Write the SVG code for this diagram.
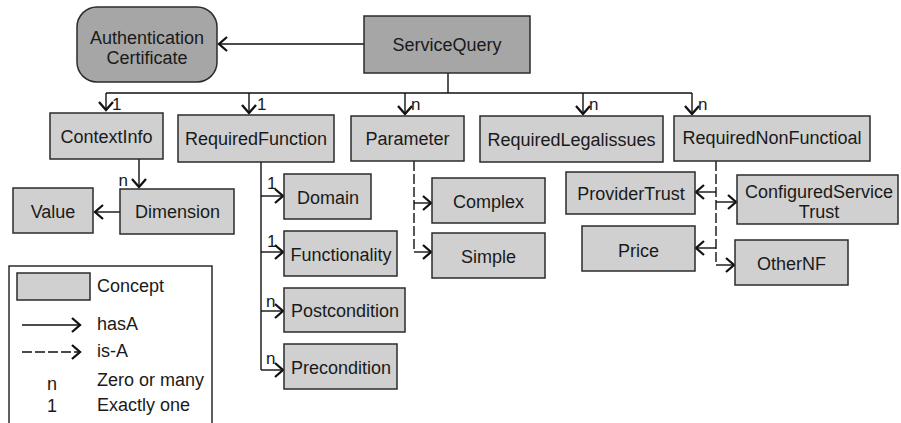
<svg xmlns="http://www.w3.org/2000/svg" width="901" height="423" viewBox="0 0 901 423">
  <style>
    .box { fill: #d0d0d0; stroke: #2b2b2b; stroke-width: 1.5; }
    .dark { fill: #a6a6a6; stroke: #2b2b2b; stroke-width: 1.5; }
    .lbl { font-family: "Liberation Sans", Arial, sans-serif; font-size: 18px; fill: #1a1a1a; text-anchor: middle; }
    .card { font-family: "Liberation Sans", Arial, sans-serif; font-size: 17px; fill: #1a1a1a; }
    .leg { font-family: "Liberation Sans", Arial, sans-serif; font-size: 18px; fill: #1a1a1a; }
    .ln { fill: none; stroke: #111; stroke-width: 1.4; }
    .has { marker-end: url(#ah); }
    .isa { stroke-dasharray: 10 3; }
  </style>
  <defs>
    <marker id="ah" viewBox="-12 -10 14 20" markerWidth="14" markerHeight="20" refX="0" refY="0" orient="auto" markerUnits="userSpaceOnUse">
      <path d="M-8,-7 L0,0 L-8,7" fill="none" stroke="#111" stroke-width="2.3" stroke-dasharray="none"/>
    </marker>
  </defs>
  <rect width="901" height="423" fill="#fff"/>

  <!-- connectors -->
  <g id="connectors">
    <line class="ln has" x1="364" y1="44" x2="219" y2="44"/>
    <path class="ln" d="M448,73 V93 M106,93 H692"/>
    <line class="ln has" x1="106" y1="93" x2="106" y2="110"/>
    <line class="ln has" x1="249" y1="93" x2="249" y2="113"/>
    <line class="ln has" x1="405" y1="93" x2="405" y2="114"/>
    <line class="ln has" x1="583" y1="93" x2="583" y2="114"/>
    <line class="ln has" x1="692" y1="93" x2="692" y2="114"/>
    <text class="card" x="112" y="110">1</text>
    <text class="card" x="257" y="110">1</text>
    <text class="card" x="411" y="110">n</text>
    <text class="card" x="589" y="110">n</text>
    <text class="card" x="698" y="110">n</text>

    <!-- ContextInfo / Dimension / Value -->
    <line class="ln has" x1="139" y1="159" x2="139" y2="187"/>
    <text class="card" x="128" y="186" text-anchor="end">n</text>
    <line class="ln has" x1="120" y1="212" x2="95" y2="212"/>

    <!-- RequiredFunction parts -->
    <path class="ln" d="M261,162 V370"/>
    <line class="ln has" x1="261" y1="196" x2="283" y2="196"/>
    <line class="ln has" x1="261" y1="252" x2="283" y2="252"/>
    <line class="ln has" x1="261" y1="311" x2="283" y2="311"/>
    <line class="ln has" x1="261" y1="370" x2="283" y2="370"/>
    <text class="card" x="267" y="189">1</text>
    <text class="card" x="267" y="247">1</text>
    <text class="card" x="266" y="307">n</text>
    <text class="card" x="266" y="364">n</text>

    <!-- Parameter kinds -->
    <path class="ln isa" d="M414,161 V252"/>
    <line class="ln has" x1="414" y1="203" x2="431" y2="203"/>
    <line class="ln has" x1="414" y1="252" x2="431" y2="252"/>

    <!-- non-functional kinds -->
    <path class="ln isa" d="M716,161 V265"/>
    <line class="ln has" x1="716" y1="192" x2="696" y2="192"/>
    <line class="ln has" x1="716" y1="248" x2="696" y2="248"/>
    <line class="ln has" x1="716" y1="202" x2="736" y2="202"/>
    <line class="ln has" x1="716" y1="265" x2="734" y2="265"/>
  </g>

  <!-- nodes -->
  <g id="auth-cert">
    <rect class="dark" x="77" y="7" width="140" height="75" rx="20"/>
    <text class="lbl" x="147" y="44">Authentication</text>
    <text class="lbl" x="147" y="64">Certificate</text>
  </g>
  <g id="service-query">
    <rect class="dark" x="364" y="16" width="166" height="57"/>
    <text class="lbl" x="447" y="51">ServiceQuery</text>
  </g>
  <g id="context-info">
    <rect class="box" x="50" y="113" width="113" height="46"/>
    <text class="lbl" x="106.5" y="143">ContextInfo</text>
  </g>
  <g id="required-function">
    <rect class="box" x="178" y="115" width="156" height="47"/>
    <text class="lbl" x="256" y="145">RequiredFunction</text>
  </g>
  <g id="parameter">
    <rect class="box" x="351" y="116" width="113" height="45"/>
    <text class="lbl" x="407.5" y="145">Parameter</text>
  </g>
  <g id="required-legal">
    <rect class="box" x="480" y="116" width="183" height="46"/>
    <text class="lbl" x="571.5" y="145.5">RequiredLegalissues</text>
  </g>
  <g id="required-nonfunctional">
    <rect class="box" x="674" y="116" width="196" height="45"/>
    <text class="lbl" x="772" y="144">RequiredNonFunctioal</text>
  </g>
  <g id="value">
    <rect class="box" x="13" y="188" width="80" height="45"/>
    <text class="lbl" x="53" y="217.5">Value</text>
  </g>
  <g id="dimension">
    <rect class="box" x="120" y="189" width="114" height="45"/>
    <text class="lbl" x="177.5" y="218">Dimension</text>
  </g>
  <g id="domain">
    <rect class="box" x="284" y="174" width="87" height="45"/>
    <text class="lbl" x="328" y="204">Domain</text>
  </g>
  <g id="functionality">
    <rect class="box" x="284" y="231" width="113" height="45"/>
    <text class="lbl" x="341" y="261">Functionality</text>
  </g>
  <g id="postcondition">
    <rect class="box" x="284" y="288" width="121" height="44"/>
    <text class="lbl" x="345" y="317">Postcondition</text>
  </g>
  <g id="precondition">
    <rect class="box" x="284" y="344" width="113" height="45"/>
    <text class="lbl" x="341" y="373.5">Precondition</text>
  </g>
  <g id="complex">
    <rect class="box" x="432" y="178" width="113" height="45"/>
    <text class="lbl" x="488.5" y="208">Complex</text>
  </g>
  <g id="simple">
    <rect class="box" x="432" y="233" width="113" height="45"/>
    <text class="lbl" x="488.5" y="263">Simple</text>
  </g>
  <g id="provider-trust">
    <rect class="box" x="566" y="172" width="129" height="42"/>
    <text class="lbl" x="631" y="199.5">ProviderTrust</text>
  </g>
  <g id="configured-service-trust">
    <rect class="box" x="737" y="175" width="161" height="49"/>
    <text class="lbl" x="819" y="198">ConfiguredService</text>
    <text class="lbl" x="819" y="218">Trust</text>
  </g>
  <g id="price">
    <rect class="box" x="582" y="226" width="113" height="45"/>
    <text class="lbl" x="638.5" y="256.5">Price</text>
  </g>
  <g id="other-nf">
    <rect class="box" x="735" y="240" width="113" height="45"/>
    <text class="lbl" x="791.5" y="270">OtherNF</text>
  </g>

  <!-- legend -->
  <g id="legend">
    <rect x="9" y="266" width="203" height="170" fill="#fff" stroke="#2b2b2b" stroke-width="1.5"/>
    <rect class="box" x="17" y="273" width="73" height="27"/>
    <text class="leg" x="97" y="292">Concept</text>
    <line class="ln has" x1="22" y1="325" x2="80" y2="325"/>
    <text class="leg" x="97" y="330">hasA</text>
    <line class="ln isa has" x1="22" y1="352" x2="80" y2="352"/>
    <text class="leg" x="97" y="357">is-A</text>
    <text class="leg" x="52" y="390" text-anchor="middle">n</text>
    <text class="leg" x="97" y="386">Zero or many</text>
    <text class="leg" x="52" y="412" text-anchor="middle">1</text>
    <text class="leg" x="97" y="411">Exactly one</text>
  </g>
</svg>
